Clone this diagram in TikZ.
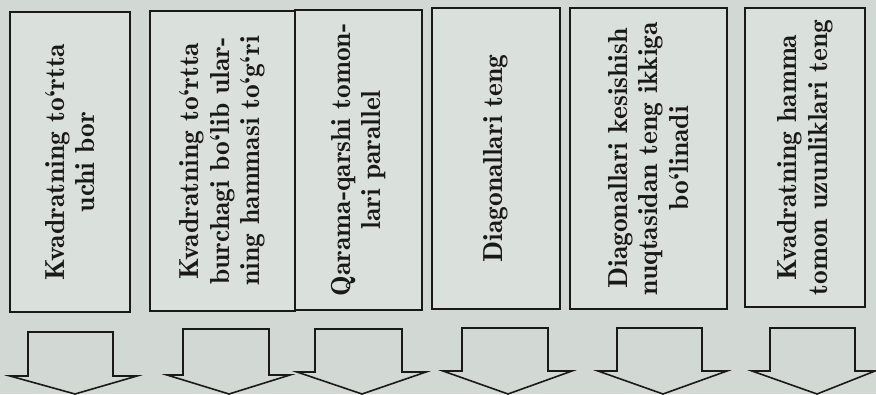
\documentclass[tikz,border=0pt]{standalone}
\usepackage{fontspec}
\newfontfamily\demifont{lmromandemi10-regular.otf}
\definecolor{bgc}{RGB}{210,217,213}
\definecolor{boxc}{RGB}{218,224,220}
\definecolor{ink}{RGB}{25,25,25}
\begin{document}
\begin{tikzpicture}[x=1pt,y=-1pt,
  box/.style={draw=ink, line width=1.6pt, fill=boxc, rotate=90, align=center,
    inner sep=0pt, font=\demifont\fontsize{27.5}{30.5}\selectfont, text=ink},
  blockarrow/.style={draw=ink, line width=1.6pt, line join=miter}]
\fill[bgc] (0,0) rectangle (876,394);
\useasboundingbox (0,0) rectangle (876,394);
% boxes (rotated: minimum width = vertical extent)
\node[box, minimum width=300pt, minimum height=120pt] (b1) at (70,162)
  {Kvadratning to‘rtta\\uchi bor};
\node[box, minimum width=300pt, minimum height=145pt] (b2) at (222.5,161)
  {Kvadratning to‘rtta\\burchagi bo‘lib ular-\\ning hammasi to‘g‘ri};
\node[box, minimum width=300pt, minimum height=127pt] (b3) at (358.5,160)
  {Qarama-qarshi tomon-\\lari parallel};
\node[box, minimum width=301pt, minimum height=128pt] (b4) at (496,158.5)
  {Diagonallari teng};
\node[box, minimum width=301pt, minimum height=157pt] (b5) at (648.5,158.5)
  {Diagonallari kesishish\\nuqtasidan teng ikkiga\\bo‘linadi};
\node[box, minimum width=299pt, minimum height=120pt] (b6) at (805,157.5)
  {Kvadratning hamma\\tomon uzunliklari teng};
% block arrows
\draw[blockarrow] (28,332) -- (28,376) -- (10,376) -- (75,394) -- (137,376) -- (113,376) -- (113,332) -- cycle;
\draw[blockarrow] (183,329) -- (183,375) -- (167,375) -- (229,394) -- (290,375) -- (269,375) -- (269,329) -- cycle;
\draw[blockarrow] (315,329) -- (315,372) -- (297,372) -- (362,394) -- (426,372) -- (402,372) -- (402,329) -- cycle;
\draw[blockarrow] (462,328) -- (462,371) -- (443,371) -- (508,394) -- (572,371) -- (548,371) -- (548,328) -- cycle;
\draw[blockarrow] (617,328) -- (617,371) -- (598,371) -- (663,394) -- (727,371) -- (702,371) -- (702,328) -- cycle;
\draw[blockarrow] (770,328) -- (770,371) -- (752,371) -- (817,394) -- (875,371) -- (855,371) -- (855,328) -- cycle;
\end{tikzpicture}
\end{document}
